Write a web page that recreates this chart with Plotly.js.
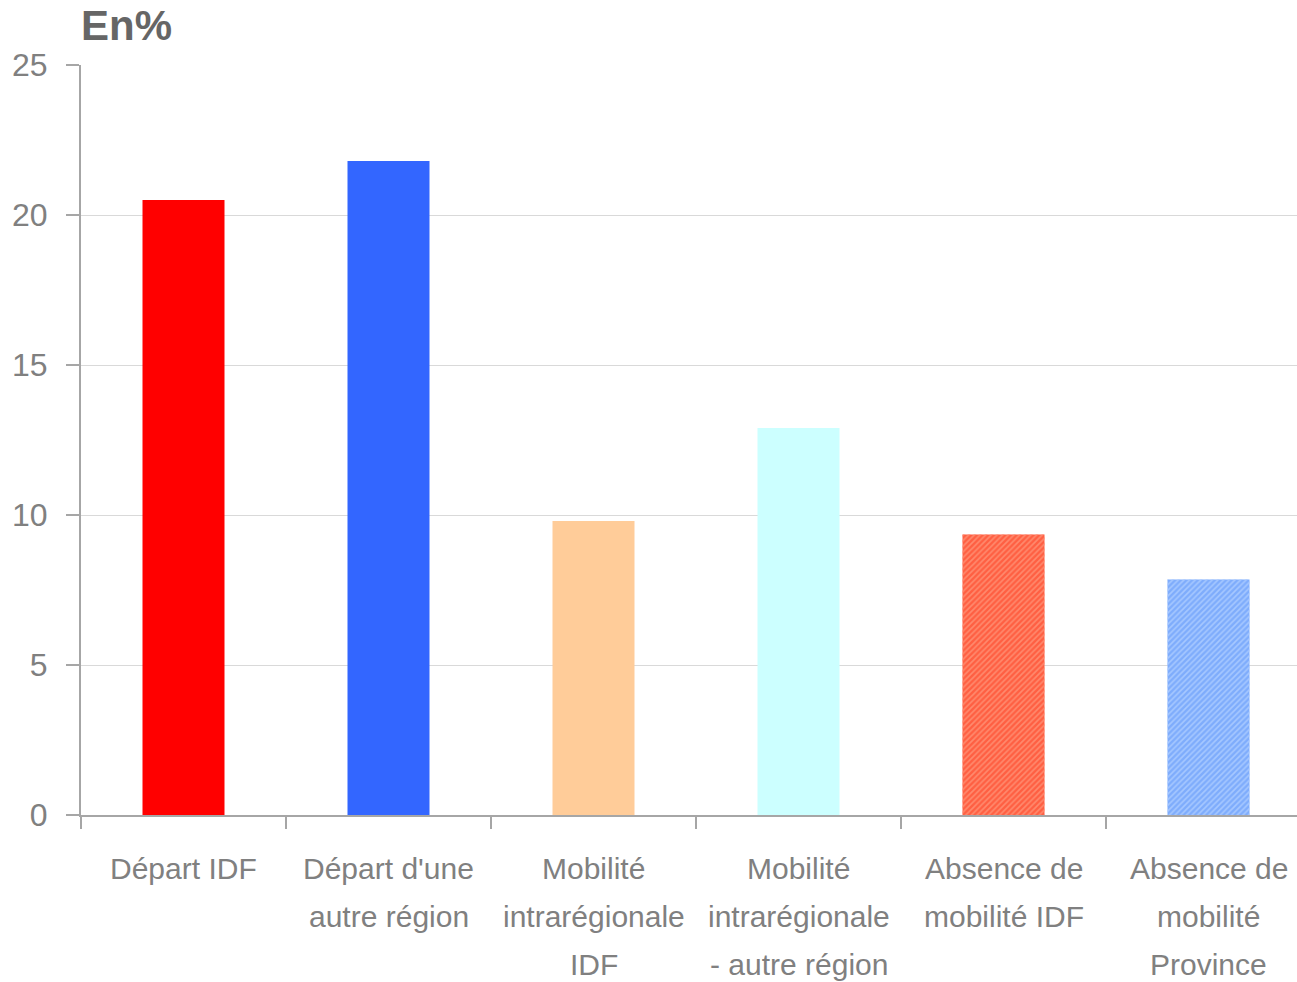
<!DOCTYPE html>
<html>
<head>
<meta charset="utf-8">
<script src="https://cdn.plot.ly/plotly-3.0.1.min.js"></script>
<style>
  html, body { margin: 0; padding: 0; overflow: hidden; background: #fff; }
  #chart { width: 1320px; height: 982px; }
</style>
</head>
<body>
<div id="chart"></div>
<script>
const categories = ["Départ IDF", "Départ d'une autre région", "Mobilité intrarégionale IDF", "Mobilité intrarégionale - autre région", "Absence de mobilité IDF", "Absence de mobilité Province"];
const tickLines = [
  ["Départ IDF"],
  ["Départ d'une", "autre région"],
  ["Mobilité", "intrarégionale", "IDF"],
  ["Mobilité", "intrarégionale", "- autre région"],
  ["Absence de", "mobilité IDF"],
  ["Absence de", "mobilité", "Province"]
];
const values = [20.5, 21.8, 9.8, 12.9, 9.35, 7.85];
const yTicks = [0, 5, 10, 15, 20, 25];

const barColors = ["#ff0000", "#3366ff", "#ffcc99", "#ccffff", "#ff5f42", "#7eacfc"];
const hatched = [false, false, false, false, true, true];
const stripeColors = ["#ff0000", "#3366ff", "#ffcc99", "#ccffff", "#ff8a6e", "#a6c8ff"];

const labelFont = {family: "Liberation Sans, Arial, sans-serif", size: 30, color: "#808080"};

const annotations = [];
tickLines.forEach((lines, i) => {
  lines.forEach((ln, j) => {
    annotations.push({
      x: categories[i], xref: "x", y: 0, yref: "paper",
      yanchor: "middle", xanchor: "center",
      yshift: -53 - 48 * j,
      text: ln, showarrow: false, font: labelFont
    });
  });
});

const baseTrace = {
  type: "bar",
  x: categories,
  y: values,
  width: 0.4,
  marker: {color: barColors, line: {width: 0}},
  hoverinfo: "x+y"
};

const hatchTrace = {
  type: "bar",
  x: categories,
  y: values.map((v, i) => hatched[i] ? v : null),
  width: 0.4,
  marker: {
    color: stripeColors,
    line: {width: 0},
    pattern: {shape: "/", fillmode: "replace", size: 4, solidity: 0.4}
  },
  hoverinfo: "skip"
};

const layout = {
  width: 1320, height: 982,
  margin: {l: 81, r: 9, t: 65, b: 167},
  paper_bgcolor: "#ffffff", plot_bgcolor: "#ffffff",
  showlegend: false,
  barmode: "overlay",
  title: {
    text: "<b>En%</b>",
    x: 81 / 1320, xanchor: "left", xref: "container",
    y: 1 - 25 / 982, yanchor: "middle", yref: "container",
    font: {family: "Liberation Sans, Arial, sans-serif", size: 42, color: "#666666"}
  },
  xaxis: {
    type: "category",
    showticklabels: false,
    ticks: "outside", tickson: "boundaries", ticklen: 12, tickwidth: 2, tickcolor: "#a6a6a6",
    showline: true, linecolor: "#a6a6a6", linewidth: 2,
    showgrid: false, zeroline: false, fixedrange: true
  },
  yaxis: {
    range: [0, 25],
    tickvals: yTicks,
    ticktext: yTicks.map(String),
    ticks: "outside", ticklen: 13, tickwidth: 2, tickcolor: "#a6a6a6",
    ticklabelstandoff: 12,
    tickfont: {family: "Liberation Sans, Arial, sans-serif", size: 32, color: "#808080"},
    showline: true, linecolor: "#a6a6a6", linewidth: 2,
    showgrid: true, gridcolor: "#d9d9d9", gridwidth: 1,
    zeroline: false, fixedrange: true
  },
  annotations: annotations
};

Plotly.newPlot("chart", [baseTrace, hatchTrace], layout, {displayModeBar: false, staticPlot: true});
</script>
</body>
</html>
